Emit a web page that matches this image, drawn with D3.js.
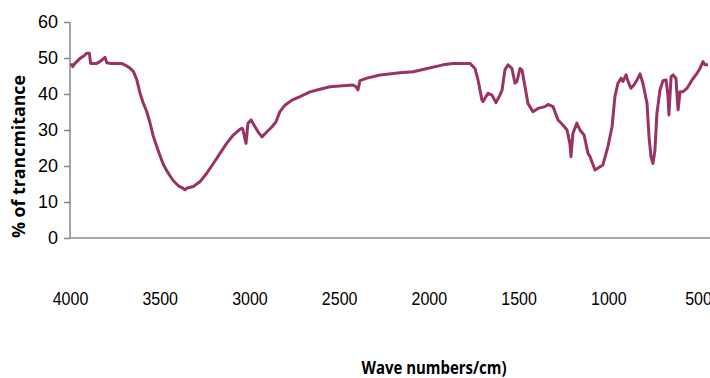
<!DOCTYPE html>
<html>
<head>
<meta charset="utf-8">
<style>
    body { margin: 0; background: #fff; }
    svg { display: block; font-family: 'Open Sans', sans-serif; }
    .axis .domain { display: none; }
    .y.axis .tick line { stroke: #888; stroke-width: 1.5; }
    .axis text { fill: #000; }
</style>
</head>
<body>
<svg width="710" height="378"></svg>

<script src="https://d3js.org/d3.v7.min.js"></script>
<script>
// wave numbers (cm-1) and % transmittance
let waveNumbers = [3994, 3985, 3972, 3944, 3928, 3907, 3892, 3885, 3851, 3833, 3805, 3795, 3777, 3712, 3684,
    3666, 3647, 3628, 3610, 3592, 3573, 3554, 3536, 3517, 3498, 3480, 3461, 3443, 3424, 3396,
    3369, 3359, 3350, 3313, 3276, 3238, 3201, 3164, 3127, 3090, 3053,
    3041, 3036, 3019, 3008, 2991, 2969, 2952, 2930, 2902, 2874, 2852, 2830, 2802,
    2763, 2718, 2662, 2607, 2551, 2479, 2423, 2406, 2395, 2384, 2345, 2272, 2161, 2088, 2033,
    1921, 1866, 1771, 1743, 1726, 1704, 1698, 1670, 1648, 1626, 1604, 1592, 1576, 1559, 1537,
    1520, 1509, 1492, 1481, 1464, 1448, 1420, 1392, 1353, 1336, 1308, 1280, 1253, 1230, 1214,
    1208, 1197, 1175, 1158, 1135, 1113, 1102, 1074, 1046, 1030, 1002, 979, 963, 946, 929,
    918, 901, 890, 874, 857, 840, 823, 807, 784, 773, 762, 751, 740, 729, 712,
    695, 678, 667, 662, 650, 639, 623, 611, 600, 584, 561, 533, 506, 489, 472,
    461, 444]

let transmittance = [48.5, 47.6, 48.5, 49.9, 50.4, 51.3, 51.3, 48.5, 48.5, 49.0, 50.2, 48.7, 48.5, 48.5, 47.8,
    47.2, 46.3, 44.0, 40.3, 37.5, 35.2, 32.0, 28.3, 25.5, 22.8, 20.5, 18.7, 17.3, 15.9, 14.5,
    13.8, 13.4, 13.8, 14.3, 15.6, 18.0, 20.7, 23.5, 26.3, 28.6, 30.2,
    30.5, 30.0, 26.3, 31.9, 32.8, 30.9, 29.5, 28.1, 29.5, 30.9, 32.3, 35.1, 36.9,
    38.3, 39.3, 40.6, 41.3, 42.0, 42.3, 42.5, 42.0, 41.1, 43.7, 44.4, 45.3, 45.9, 46.2, 46.8,
    48.1, 48.5, 48.5, 47.1, 43.9, 38.3, 37.9, 40.2, 39.7, 37.6, 39.7, 41.1, 46.7, 48.1, 47.1,
    43.0, 43.5, 47.1, 46.7, 42.0, 37.4, 35.1, 36.0, 36.5, 37.1, 36.5, 32.8, 31.4, 30.0, 26.3,
    22.6, 29.1, 31.9, 30.0, 28.6, 23.5, 22.6, 18.9, 19.8, 20.3, 25.4, 30.9, 39.3, 43.0, 44.4,
    43.5, 45.3, 43.5, 41.6, 42.5, 43.9, 45.6, 43.0, 37.4, 28.1, 22.6, 20.7, 24.4, 34.6, 41.1,
    43.7, 43.9, 39.3, 34.2, 44.8, 45.3, 44.4, 35.6, 40.6, 40.6, 41.6, 43.9, 45.7, 47.1, 49.0,
    48.1, 48.1]

let xTicks = [4000, 3500, 3000, 2500, 2000, 1500, 1000, 500]
let yTicks = [0, 10, 20, 30, 40, 50, 60]

let width = 710
let height = 378
let margin = { top: 22, right: 12, bottom: 140, left: 70 }

let svg = d3.select("svg")

let x = d3.scaleLinear()
    .domain([4000, 500])
    .range([margin.left, 698])

let y = d3.scaleLinear()
    .domain([0, 60])
    .range([height - margin.bottom, margin.top])

// y axis
let yAxisSettings = d3.axisLeft(y)
    .tickValues(yTicks)
    .tickSize(6)
    .tickPadding(6)
    .tickSizeOuter(0)

svg.append("g")
    .attr("class", "y axis")
    .attr("transform", `translate(${margin.left},0)`)
    .call(yAxisSettings)
    .style("font-size", "18px")
    .selectAll("text")
    // narrow digits like the original (calibri-ish)
    .attr("textLength", d => String(d).length * 10)
    .attr("lengthAdjust", "spacingAndGlyphs")

svg.append("line")
    .attr("x1", margin.left)
    .attr("x2", margin.left)
    .attr("y1", y(60))
    .attr("y2", y(0))
    .style("stroke", "#888")
    .style("stroke-width", 1.5)

// x axis, labels sit well below the baseline
let xAxisSettings = d3.axisBottom(x)
    .tickValues(xTicks)
    .tickSize(0)
    .tickPadding(54)
    .tickFormat(d3.format("d"))

svg.append("g")
    .attr("class", "x axis")
    .attr("transform", `translate(0,${y(0)})`)
    .call(xAxisSettings)
    .style("font-size", "18px")
    .selectAll("text")
    .attr("textLength", d => String(d).length * 8.9)
    .attr("lengthAdjust", "spacingAndGlyphs")

svg.append("line")
    .attr("x1", margin.left)
    .attr("x2", width)
    .attr("y1", y(0))
    .attr("y2", y(0))
    .style("stroke", "#888")
    .style("stroke-width", 1.5)

// spectrum
let data = waveNumbers.map((w, i) => ({ w: w, t: transmittance[i] }))

let line = d3.line()
    .x(d => x(d.w))
    .y(d => y(d.t))

svg.append("path")
    .datum(data)
    .attr("d", line)
    .style("fill", "none")
    .style("stroke", "#993366")
    .style("stroke-width", 3)
    .style("stroke-linejoin", "round")

// axis titles
svg.append("text")
    .attr("transform", "translate(25,156.5) rotate(-90)")
    .attr("text-anchor", "middle")
    .attr("textLength", 163)
    .attr("lengthAdjust", "spacingAndGlyphs")
    .style("font-weight", "bold")
    .style("font-size", "18px")
    .text("% of trancmitance")

svg.append("text")
    .attr("x", 434)
    .attr("y", 374)
    .attr("text-anchor", "middle")
    .attr("textLength", 145)
    .attr("lengthAdjust", "spacingAndGlyphs")
    .style("font-weight", "bold")
    .style("font-size", "17px")
    .text("Wave numbers/cm)")
</script>
</body>
</html>
